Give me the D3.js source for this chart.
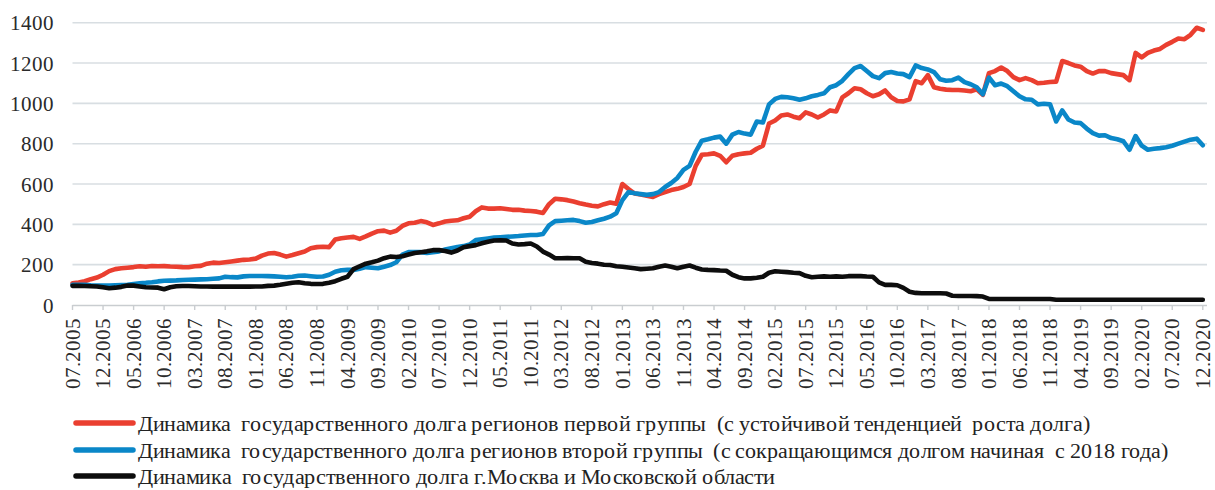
<!DOCTYPE html>
<html><head><meta charset="utf-8">
<script src="https://cdn.jsdelivr.net/npm/d3@7"></script>
<style>
@font-face{font-family:"RefSerif";src:local("Liberation Serif"),local("LiberationSerif"),local("LiberationSerif-Regular"),local("Tinos"),local("Times New Roman");font-display:swap;}
</style>
</head>
<body style="margin:0">
<svg id="chart" width="1215" height="490" font-family="RefSerif, Liberation Serif, Tinos, Times New Roman, serif"></svg>
<script>
// ---- data ----
const startMonth = "07.2005";
const monthCount = 186; // 07.2005 .. 12.2020
const tickLabels = ["07.2005","12.2005","05.2006","10.2006","03.2007","08.2007","01.2008","06.2008","11.2008","04.2009","09.2009","02.2010","07.2010","12.2010","05.2011","10.2011","03.2012","08.2012","01.2013","06.2013","11.2013","04.2014","09.2014","02.2015","07.2015","12.2015","05.2016","10.2016","03.2017","08.2017","01.2018","06.2018","11.2018","04.2019","09.2019","02.2020","07.2020","12.2020"];
const yTicks = [0,200,400,600,800,1000,1200,1400];

const seriesNames = [
  "Динамика  государственного долга регионов первой группы  (с устойчивой тенденцией  роста долга)",
  "Динамика  государственного долга регионов второй группы  (с сокращающимся долгом начиная  с 2018 года)",
  "Динамика  государственного долга г.Москва и Московской области"
];
const seriesColors = ["#ea3f30","#0a87c8","#0d0d0d"];

const firstGroup = [
 108,112,118,128,136,150,168,178,182,185,
 188,192,190,193,192,193,191,190,188,187,
 192,194,205,210,208,212,216,220,224,226,
 230,245,255,258,250,240,248,257,265,281,
 287,289,287,325,331,335,338,328,340,354,
 366,369,359,368,392,405,408,416,410,397,
 405,414,418,420,430,438,465,484,478,478,
 480,476,472,472,468,466,463,456,500,527,
 524,520,513,505,498,492,489,500,508,502,
 600,575,553,548,542,536,550,560,570,576,
 585,600,690,745,748,752,740,708,740,748,
 752,755,775,790,900,915,940,945,934,926,
 955,945,930,945,965,960,1030,1050,1075,1070,
 1050,1035,1045,1064,1030,1012,1010,1020,1110,1100,
 1140,1080,1072,1068,1066,1066,1064,1060,1070,1042,
 1150,1160,1178,1160,1130,1115,1125,1115,1100,1102,
 1106,1108,1210,1200,1188,1182,1160,1148,1160,1160,
 1150,1145,1140,1115,1250,1228,1250,1262,1270,1290,
 1305,1322,1318,1340,1375,1364
];
const secondGroup = [
 100,100,100,98,97,96,97,98,99,100,
 104,108,110,113,117,120,121,122,124,125,
 126,127,128,130,132,140,138,137,142,144,
 144,144,143,142,140,138,140,145,146,143,
 140,141,150,165,172,174,174,180,188,185,
 182,190,198,212,250,262,263,262,258,262,
 266,275,282,288,292,300,322,326,330,334,
 336,338,340,342,345,347,347,352,395,416,
 418,420,422,416,408,412,420,428,438,455,
 520,560,554,550,546,550,560,585,605,630,
 670,690,760,815,822,830,835,800,845,858,
 850,845,910,905,995,1022,1032,1030,1025,1018,
 1025,1035,1042,1050,1080,1090,1112,1145,1175,1185,
 1160,1135,1125,1150,1155,1148,1145,1130,1188,1175,
 1168,1155,1120,1112,1115,1128,1105,1095,1080,1045,
 1128,1090,1098,1085,1060,1035,1020,1018,995,998,
 995,910,965,920,905,902,875,852,840,842,
 828,822,812,770,838,790,770,775,778,782,
 790,800,810,820,825,792
];
const moscow = [
 95,95,94,93,92,88,83,86,90,97,
 96,92,88,87,86,78,88,93,94,94,
 93,92,92,91,91,91,91,91,91,91,
 92,92,95,96,100,105,110,113,108,105,
 104,105,110,118,130,140,178,192,205,212,
 220,232,240,238,242,250,258,262,266,272,
 272,268,260,270,286,292,297,306,314,320,
 321,320,305,300,302,305,290,265,250,232,
 232,233,232,232,215,208,205,200,198,192,
 190,186,182,178,180,182,190,196,190,182,
 190,196,185,176,174,173,171,170,150,138,
 132,132,135,140,160,167,165,163,160,158,
 145,138,140,142,140,142,140,143,144,143,
 141,140,112,100,100,98,85,66,60,58,
 58,58,58,57,46,45,45,45,44,42,
 30,30,30,30,30,30,30,30,30,30,
 30,26,26,26,26,26,26,26,26,26,
 26,26,26,26,26,26,26,26,26,26,
 26,26,26,26,26,26
];
const seriesValues = [firstGroup, secondGroup, moscow];

// ---- categories (month keys) ----
const parse = d3.timeParse("%m.%Y"), fmt = d3.timeFormat("%m.%Y");
const startDate = parse(startMonth);
const categories = d3.range(monthCount).map(i => fmt(d3.timeMonth.offset(startDate, i)));

// ---- layout ----
const svg = d3.select("#chart");
const pLeft = 72.5, pRight = 1202.8, pTop = 22.7, pBottom = 305, gridEnd = 1207;
const x = d3.scalePoint().domain(categories).range([pLeft, pRight]);
const y = d3.scaleLinear().domain([0,1400]).range([pBottom, pTop]);

// gridlines
yTicks.filter(v=>v>0).forEach(v=>{
  svg.append("line").attr("x1",pLeft).attr("x2",gridEnd).attr("y1",y(v)).attr("y2",y(v))
    .attr("stroke","#d8dee2").attr("stroke-width",1.6);
});

// y labels
yTicks.forEach(v=>{
  svg.append("text").attr("x",pLeft-19).attr("y",y(v)).attr("dy","0.36em")
    .attr("text-anchor","end").attr("fill","#2a2a2a").attr("font-size",21)
    .text(d3.format("d")(v));
});

// x axis line + ticks
svg.append("line").attr("x1",pLeft).attr("x2",gridEnd).attr("y1",pBottom+0.5).attr("y2",pBottom+0.5)
  .attr("stroke","#c9cdd0").attr("stroke-width",1.6);
tickLabels.forEach(lab=>{
  const xx = x(lab);
  svg.append("line").attr("x1",xx).attr("x2",xx).attr("y1",pBottom).attr("y2",pBottom+5)
    .attr("stroke","#c9cdd0").attr("stroke-width",1.4);
  svg.append("text").attr("transform",`translate(${xx},${pBottom+13}) rotate(-90)`)
    .attr("text-anchor","end").attr("dy","0.34em").attr("fill","#2a2a2a").attr("font-size",21)
    .text(lab);
});

// lines
const line = d3.line().x((d,i)=>x(categories[i])).y(d=>y(d)).curve(d3.curveLinear);
seriesValues.forEach((vals,k)=>{
  svg.append("path").datum(vals).attr("d",line)
    .attr("fill","none").attr("stroke",seriesColors[k]).attr("stroke-width",4.6)
    .attr("stroke-linejoin","round").attr("stroke-linecap","round");
});

// legend
const legY = [423,450,476];
const legEnd = [1090,1168,775];
seriesNames.forEach((name,k)=>{
  svg.append("line").attr("x1",76).attr("x2",133).attr("y1",legY[k]).attr("y2",legY[k])
    .attr("stroke",seriesColors[k]).attr("stroke-width",5.5).attr("stroke-linecap","round");
  svg.append("text").attr("x",138).attr("y",legY[k]+8).attr("fill","#222").attr("font-size",21)
    .attr("xml:space","preserve").style("white-space","pre")
    .attr("textLength",legEnd[k]-138).attr("lengthAdjust","spacingAndGlyphs")
    .text(name);
});
</script></body></html>
